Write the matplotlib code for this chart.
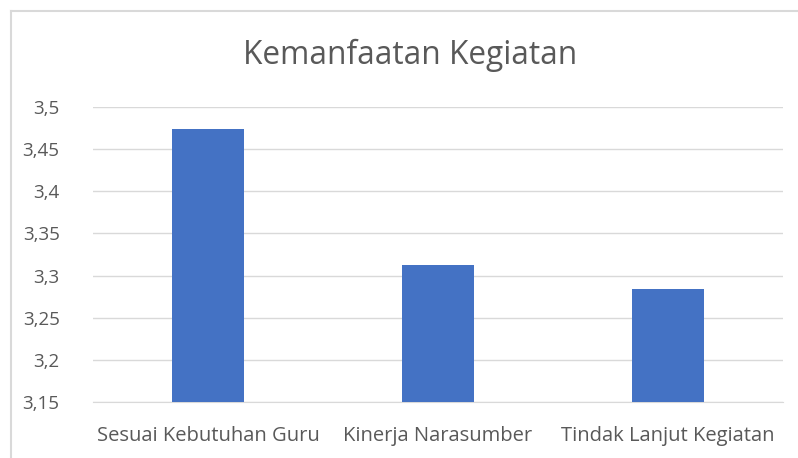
import matplotlib.pyplot as plt
from matplotlib.lines import Line2D
from matplotlib.ticker import FuncFormatter

categories = ['Sesuai Kebutuhan Guru', 'Kinerja Narasumber', 'Tindak Lanjut Kegiatan']
values = [3.474, 3.313, 3.284]
yticks = [3.15, 3.2, 3.25, 3.3, 3.35, 3.4, 3.45, 3.5]

plt.rcParams['font.family'] = ['Open Sans', 'DejaVu Sans']

fig = plt.figure(figsize=(7.98, 4.58), dpi=100)
ax = fig.add_axes([0.1165, 0.1223, 0.8645, 0.6441])

ax.bar(range(len(categories)), values, width=0.31, color='#4472C4', zorder=3)
ax.set_xlim(-0.5, len(categories) - 0.5)
ax.set_ylim(3.15, 3.5)
ax.set_yticks(yticks)
ax.yaxis.set_major_formatter(FuncFormatter(lambda v, p: ('%g' % round(v, 2)).replace('.', ',')))
ax.set_xticks(range(len(categories)))
ax.set_xticklabels(categories)
ax.grid(axis='y', color='#d9d9d9', linewidth=1, zorder=0)
ax.tick_params(axis='y', length=0, labelsize=13.5, colors='#595959', pad=24)
ax.tick_params(axis='x', length=0, labelsize=14.5, colors='#595959', pad=17)
for s in ['top', 'right', 'left']:
    ax.spines[s].set_visible(False)
ax.spines['bottom'].set_color('#d9d9d9')

fig.text(0.514, 0.88, 'Kemanfaatan Kegiatan', ha='center', va='center',
         fontsize=22.8, color='#595959')

# chart frame
fig.add_artist(Line2D([11/798, 11/798], [0, 1 - 11/458], color='#d9d9d9', lw=1.5, transform=fig.transFigure))
fig.add_artist(Line2D([11/798, 1], [1 - 11/458, 1 - 11/458], color='#d9d9d9', lw=1.5, transform=fig.transFigure))

fig.savefig('out.png', dpi=100)
